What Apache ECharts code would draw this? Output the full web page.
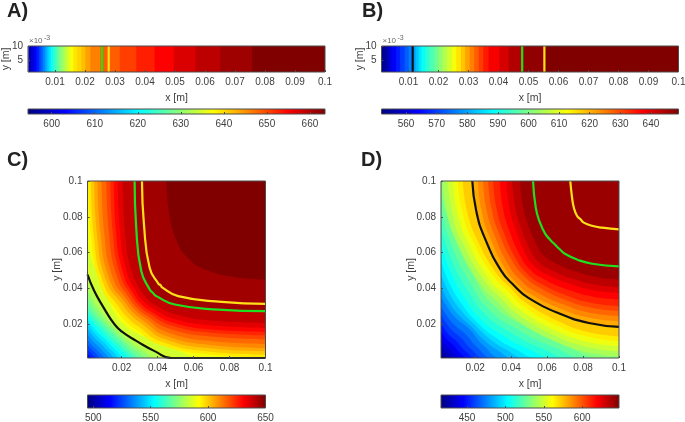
<!DOCTYPE html>
<html>
<head>
<meta charset="utf-8">
<style>
  html, body { margin: 0; background: #fff; }
  #chart { width: 685px; height: 422px; }
</style>
<script src="https://cdn.jsdelivr.net/npm/echarts@6/dist/echarts.min.js"></script>
</head>
<body>
<div id="chart"></div>
<script>
// A) strip: left edge of each colour band [m] and its value
const aEdges = [.0011,.0020,.0029,.0038,.0046,.0052,.0059,.0066,.0072,.0079,.0086,.0093,.0101,.0109,.0118,.0128,.0138,.0149,.0161,.0174,.0188,.0201,.0218,.0251,.0316,.0371,.0432,.0496,.0568,.0651,.0757];
const aValues = [598,600.3,602.6,604.9,607.2,609.5,611.8,614.1,616.4,618.7,621,623.3,625.6,627.9,630.2,632.5,634.8,637.1,639.4,640.5,642,644,646.3,648.6,650.7,652.8,654.9,657.3,659.4,661.4,663.5];
const aRange = [594.5, 663.5];
const aTicks = [600, 610, 620, 630, 640, 650, 660];
const aGreenX = 0.0257;
const aYellowX = 0.0279;

// B) strip
const bEdges = [.0011,.0024,.0033,.0043,.0058,.0072,.0087,.0101,.0114,.0124,.0134,.0143,.0156,.0170,.0186,.0200,.0214,.0229,.0245,.0259,.0275,.0289,.0304,.0319,.0334,.0349,.0367,.0403,.0434,.0478,.0553];
const bValues = [553.6,556.8,560.1,563.3,566.6,569.8,573,576.3,579.5,582.7,586,589.2,592.4,595.7,598.9,602.1,605.4,608.6,611.8,615.1,618.3,621.5,624.8,628,631.2,634.5,637.7,640.9,644.2,647.4,649];
const bRange = [552, 649];
const bTicks = [560, 570, 580, 590, 600, 610, 620, 630, 640];
const bBlackX = 0.0114;
const bGreenX = 0.0479;
const bYellowX = 0.0553;

// C) filled contours, half of each isoline from the edge to the diagonal (field is symmetric)
const cRange = [495, 650];
const cTicks = [500, 550, 600, 650];
const cBase = 515;
const cBands = [520,525,530,535,540,545,550,555,560,565,570,575,580,585,590,595,600,605,610,615,620,625,630,635,640,645,650];
const cContours = [
  [[.001,.0034],[.0015,.0027],[.0021,.0021]],
  [[.001,.006],[.002,.0046],[.0033,.0033]],
  [[.001,.0087],[.0026,.0065],[.0046,.0046]],
  [[.001,.0115],[.0031,.0086],[.0059,.0059]],
  [[.001,.0145],[.0037,.0107],[.0073,.0073]],
  [[.001,.0176],[.0044,.0128],[.0087,.0087]],
  [[.001,.0202],[.0049,.0149],[.0099,.0099]],
  [[.001,.0227],[.0055,.0167],[.0112,.0112]],
  [[.001,.0251],[.0036,.0215],[.0073,.0175],[.0122,.0122]],
  [[.001,.0279],[.0038,.0238],[.008,.0193],[.0135,.0135]],
  [[.001,.0309],[.004,.0262],[.0086,.0212],[.0148,.0148]],
  [[.001,.035],[.0043,.029],[.0091,.0228],[.0158,.0158]],
  [[.001,.0393],[.0045,.0324],[.0098,.0248],[.0169,.0169]],
  [[.001,.0449],[.0049,.0367],[.0107,.0277],[.0186,.0186]],
  [[.001,.0645],[.0053,.0508],[.0117,.0356],[.0204,.0204]],
  [[.0014,.1],[.003,.0688],[.0084,.0414],[.017,.028],[.0219,.0219]],
  [[.0029,.1],[.0045,.0694],[.0099,.0426],[.0185,.0295],[.0234,.0234]],
  [[.0047,.1],[.0063,.07],[.0116,.0438],[.0202,.0312],[.0251,.0251]],
  [[.0066,.1],[.0082,.0706],[.0133,.0448],[.0216,.0324],[.0264,.0264]],
  [[.0088,.1],[.0103,.0711],[.0152,.0458],[.0232,.0333],[.0277,.0277]],
  [[.0115,.1],[.0129,.0715],[.0174,.0466],[.0246,.034],[.0288,.0288]],
  [[.0137,.1],[.015,.072],[.0192,.0475],[.0261,.0349],[.03,.03]],
  [[.0156,.1],[.0168,.0724],[.0209,.0483],[.0274,.0357],[.0311,.0311]],
  [[.0178,.1],[.019,.073],[.0228,.0493],[.0289,.0368],[.0324,.0324]],
  [[.0206,.1],[.0217,.0737],[.0252,.0507],[.0309,.0383],[.0342,.0342]],
  [[.0272,.1],[.0281,.0739],[.0309,.0496],[.0356,.0393],[.0374,.0374]],
  [[.0449,.1],[.0462,.0832],[.0514,.0645],[.057,.057]]
];
const cBlack = [[.001,.0477],[.0047,.0386],[.0103,.0286],[.0141,.0225],[.0178,.0178]];
const cGreen = [[.0272,.1],[.0281,.0739],[.0309,.0496],[.0356,.0393],[.0374,.0374]];
const cYellow = [[.0313,.1],[.0324,.0757],[.0356,.0514],[.0405,.0425],[.0417,.0417]];

// D) filled contours
const dRange = [416, 648];
const dTicks = [450, 500, 550, 600];
const dBase = 418.7;
const dBands = [426.4,434.1,441.8,449.5,457.2,464.9,472.6,480.3,488,495.7,503.4,511.1,518.8,526.5,534.2,541.9,549.6,557.3,565,572.7,580.4,588.1,595.8,603.5,611.2,618.9,626.6,634.3,642];
const dContours = [
  [[.001,.0044],[.0017,.0033],[.0024,.0024]],
  [[.001,.0079],[.0024,.0059],[.004,.004]],
  [[.001,.0122],[.0032,.0088],[.006,.006]],
  [[.001,.0163],[.004,.0116],[.008,.008]],
  [[.001,.0206],[.0049,.0145],[.01,.01]],
  [[.001,.0253],[.0059,.0178],[.0122,.0122]],
  [[.001,.03],[.0069,.0212],[.0145,.0145]],
  [[.001,.0356],[.0082,.0245],[.017,.017]],
  [[.001,.0412],[.0053,.0325],[.0113,.0246],[.0182,.0182]],
  [[.001,.0477],[.0057,.0371],[.0122,.0275],[.0197,.0197]],
  [[.001,.0552],[.006,.0422],[.013,.0306],[.021,.021]],
  [[.001,.0645],[.0065,.0487],[.0141,.0345],[.0229,.0229]],
  [[.001,.0738],[.0071,.0554],[.0157,.039],[.0255,.0255]],
  [[.001,.0832],[.0077,.0622],[.0171,.0434],[.0279,.0279]],
  [[.001,.0925],[.0083,.0689],[.0186,.0477],[.0303,.0303]],
  [[.0019,.1],[.0048,.0804],[.0111,.0632],[.0233,.0419],[.0324,.0324]],
  [[.0047,.1],[.0075,.081],[.0136,.0642],[.0255,.0436],[.0344,.0344]],
  [[.0075,.1],[.0102,.0815],[.0161,.0653],[.0277,.0452],[.0363,.0363]],
  [[.0103,.1],[.013,.0821],[.0187,.0664],[.03,.047],[.0384,.0384]],
  [[.0131,.1],[.0156,.0826],[.0211,.0672],[.0319,.0483],[.0399,.0399]],
  [[.0187,.1],[.0206,.0832],[.0253,.0682],[.0346,.0496],[.0416,.0416]],
  [[.0215,.1],[.0235,.0835],[.028,.0689],[.0366,.051],[.043,.043]],
  [[.0244,.1],[.0263,.084],[.0306,.07],[.0388,.0526],[.0449,.0449]],
  [[.0272,.1],[.0291,.0846],[.0331,.0711],[.0411,.0544],[.047,.047]],
  [[.03,.1],[.0318,.0851],[.0356,.072],[.043,.0558],[.0486,.0486]],
  [[.0337,.1],[.0353,.0856],[.0387,.073],[.0455,.0574],[.0505,.0505]],
  [[.0374,.1],[.0388,.0863],[.042,.0742],[.048,.0592],[.0526,.0526]],
  [[.0406,.1],[.042,.087],[.0449,.0755],[.0507,.0613],[.055,.055]],
  [[.0449,.1],[.0462,.0879],[.0489,.0773],[.0543,.0641],[.0583,.0583]]
];
const dBlack = [[.0184,.1],[.0206,.0832],[.0253,.0682],[.0346,.0496],[.0416,.0416]];
const dGreen = [[.0522,.1],[.0537,.0851],[.056,.0768],[.059,.0704],[.0617,.0672],[.0644,.0644]];
const dYellow = [[.0729,.1],[.0739,.0907],[.0748,.0855],[.0767,.0804],[.0786,.0786]];

const xTicksStrip = [.01,.02,.03,.04,.05,.06,.07,.08,.09,.1];
const ticksSquare = [.02,.04,.06,.08,.1];

const FONT = '"Liberation Sans", Arial, sans-serif';
const AXIS_COLOR = '#4d4d4d';
const TEXT_COLOR = '#404040';
const LINE_BLACK = '#111111';
const LINE_GREEN = '#1fe01f';
const LINE_YELLOW = '#ffe11a';
const JET_STOPS = [
  [0, [0, 0, 128]], [0.125, [0, 0, 255]], [0.375, [0, 255, 255]],
  [0.625, [255, 255, 0]], [0.875, [255, 0, 0]], [1, [128, 0, 0]]
];

function jet(t) {
  t = Math.max(0, Math.min(1, t));
  for (let i = 1; i < JET_STOPS.length; i++) {
    if (t <= JET_STOPS[i][0]) {
      const a = JET_STOPS[i - 1], b = JET_STOPS[i];
      const f = (t - a[0]) / (b[0] - a[0]);
      const c = a[1].map((v, j) => Math.round(v + (b[1][j] - v) * f));
      return `rgb(${c[0]},${c[1]},${c[2]})`;
    }
  }
  return 'rgb(128,0,0)';
}
const bandColor = (v, range) => jet((v - range[0]) / (range[1] - range[0]));

// the fields are symmetric about x = y, so the other half of an isoline is the mirror
function wholeLine(half) {
  const other = half.slice(0, -1).map(p => [p[1], p[0]]).reverse();
  const line = half.concat(other);
  const last = line[line.length - 1];
  if (last[0] < 0.1) line.push([0.1, last[1]]);
  return line;
}

const grids = [];
const xAxes = [];
const yAxes = [];
const series = [];

function addGrid(left, top, width, height) {
  grids.push({
    left, top, width, height, show: true, z: 6, outerBoundsMode: 'none',
    backgroundColor: 'transparent', borderColor: AXIS_COLOR, borderWidth: 1
  });
  return grids.length - 1;
}

function baseAxis(gridIndex, min, max, ticks, name, nameGap) {
  return {
    type: 'value', gridIndex, min, max, z: 7,
    name, nameLocation: 'center', nameGap, nameMoveOverlap: false,
    nameTextStyle: { fontFamily: FONT, fontSize: 10.5, color: TEXT_COLOR },
    axisLine: { show: false },
    splitLine: { show: false },
    axisTick: { show: true, inside: true, length: 2, customValues: ticks, lineStyle: { color: AXIS_COLOR } },
    axisLabel: {
      show: true, customValues: ticks, margin: 5, fontFamily: FONT, fontSize: 10, color: TEXT_COLOR,
      formatter: v => String(v)
    }
  };
}

function addLine(idx, points, color) {
  series.push({
    type: 'line', xAxisIndex: idx, yAxisIndex: idx, data: points, smooth: 0.5,
    showSymbol: false, silent: true, animation: false, z: 4,
    lineStyle: { color, width: 2.2 }
  });
}

function addColorbar(left, top, width, height, range, ticks) {
  const idx = addGrid(left, top, width, height);
  xAxes.push(baseAxis(idx, range[0], range[1], ticks, '', 0));
  yAxes.push({ type: 'value', gridIndex: idx, min: 0, max: 1, show: false });
  const colorStops = [];
  JET_STOPS.forEach(s => colorStops.push({ offset: s[0], color: jet(s[0]) }));
  series.push({
    type: 'custom', xAxisIndex: idx, yAxisIndex: idx, silent: true, animation: false, z: 2,
    data: [range],
    renderItem(params, api) {
      const p0 = api.coord([api.value(0), 1]);
      const p1 = api.coord([api.value(1), 0]);
      return {
        type: 'rect',
        shape: { x: p0[0], y: p0[1], width: p1[0] - p0[0], height: p1[1] - p0[1] },
        style: { fill: new echarts.graphic.LinearGradient(0, 0, 1, 0, colorStops) }
      };
    }
  });
}

function addStrip(left, values, edges, range, lines) {
  const idx = addGrid(left, 46, 297, 26);
  xAxes.push(baseAxis(idx, 0.001, 0.1, xTicksStrip, 'x [m]', 21));
  yAxes.push(baseAxis(idx, 1, 10, [5, 10], 'y [m]', 16));
  series.push({
    type: 'custom', xAxisIndex: idx, yAxisIndex: idx, silent: true, animation: false, z: 2,
    data: edges.map((x, i) => [x, values[i]]),
    renderItem(params, api) {
      const p0 = api.coord([api.value(0), 10]);
      const p1 = api.coord([0.1, 1]);
      return {
        type: 'rect',
        shape: { x: p0[0], y: p0[1], width: p1[0] - p0[0], height: p1[1] - p0[1] },
        style: { fill: bandColor(api.value(1), range) }
      };
    }
  });
  lines.forEach(l => addLine(idx, [[l[0], 1], [l[0], 10]], l[1]));
}

function addField(left, base, bands, contours, range, lines) {
  const idx = addGrid(left, 181, 178, 177);
  xAxes.push(baseAxis(idx, 0.001, 0.1, ticksSquare, 'x [m]', 21));
  yAxes.push(baseAxis(idx, 0.001, 0.1, ticksSquare, 'y [m]', 24.5));
  // lowest band fills the whole square, then each higher band is painted on top
  const fills = [{ v: base, line: [[0.001, 0.001], [0.1, 0.001]] }]
    .concat(bands.map((v, i) => ({ v, line: wholeLine(contours[i]) })));
  fills.forEach(f => {
    series.push({
      type: 'line', xAxisIndex: idx, yAxisIndex: idx, data: f.line, smooth: 0.5,
      showSymbol: false, silent: true, animation: false, z: 2,
      lineStyle: { width: 0 },
      areaStyle: { origin: 'end', color: bandColor(f.v, range), opacity: 1 }
    });
  });
  lines.forEach(l => addLine(idx, wholeLine(l[0]), l[1]));
}

addStrip(28, aValues, aEdges, aRange, [[aGreenX, LINE_GREEN], [aYellowX, LINE_YELLOW]]);
addColorbar(28, 109, 297, 5, aRange, aTicks);
addStrip(381.5, bValues, bEdges, bRange, [[bBlackX, LINE_BLACK], [bGreenX, LINE_GREEN], [bYellowX, LINE_YELLOW]]);
addColorbar(381.5, 109, 297, 5, bRange, bTicks);
addField(87.5, cBase, cBands, cContours, cRange, [[cBlack, LINE_BLACK], [cGreen, LINE_GREEN], [cYellow, LINE_YELLOW]]);
addColorbar(87.5, 395, 178, 13, cRange, cTicks);
addField(441, dBase, dBands, dContours, dRange, [[dBlack, LINE_BLACK], [dGreen, LINE_GREEN], [dYellow, LINE_YELLOW]]);
addColorbar(441, 395, 178, 13, dRange, dTicks);

const panelLabels = [['A)', 7, 1], ['B)', 362, 1], ['C)', 7, 150], ['D)', 361, 150]];
const graphic = panelLabels.map(p => ({
  type: 'text', left: p[1], top: p[2],
  style: { text: p[0], fontFamily: FONT, fontSize: 20, fontWeight: 'bold', fill: '#222' }
}));
[28, 381.5].forEach(x => {
  graphic.push({ type: 'text', left: x + 1, top: 37, style: { text: '×10', fontFamily: FONT, fontSize: 8, fill: '#666' } });
  graphic.push({ type: 'text', left: x + 16, top: 35, style: { text: '-3', fontFamily: FONT, fontSize: 7, fill: '#666' } });
});

const chart = echarts.init(document.getElementById('chart'), null, { renderer: 'canvas' });
chart.setOption({
  animation: false,
  backgroundColor: '#ffffff',
  grid: grids,
  xAxis: xAxes,
  yAxis: yAxes,
  graphic,
  series
});
</script>
</body>
</html>
